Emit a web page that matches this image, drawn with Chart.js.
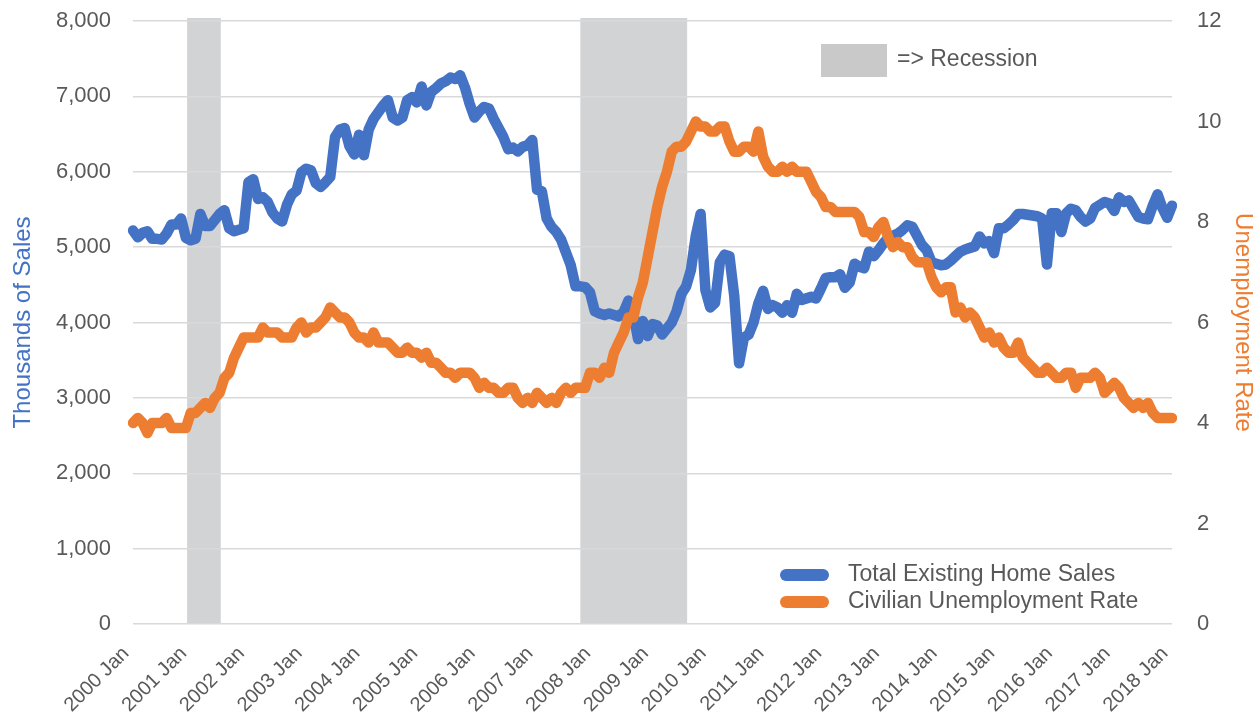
<!DOCTYPE html>
<html>
<head>
<meta charset="utf-8">
<script src="https://cdn.jsdelivr.net/npm/chart.js@4.4.1/dist/chart.umd.min.js"></script>
<style>
html,body{margin:0;padding:0;background:#ffffff;}
canvas{display:block;}
</style>
</head>
<body>
<canvas id="c" width="1260" height="721"></canvas>
<script>
// ---- categories (monthly, 2000 Jan .. 2018 Jan) ----
const firstYear = 2000;
const lastYear = 2018;
const monthNames = ["Jan","Feb","Mar","Apr","May","Jun","Jul","Aug","Sep","Oct","Nov","Dec"];
const categories = [];
for (let y = firstYear; y <= lastYear; y++) {
  for (let m = 0; m < 12; m++) {
    if (y === lastYear && m > 0) break;
    categories.push(y + " " + monthNames[m]);
  }
}

// ---- series: Total Existing Home Sales (thousands) ----
const homeSales = [
  5220,5130,5190,5210,5110,5110,5100,5180,5300,5300,5380,5120,
  5090,5110,5440,5280,5280,5360,5440,5490,5250,5210,5230,5250,
  5860,5900,5640,5660,5600,5460,5380,5340,5560,5700,5750,5990,
  6040,6020,5850,5800,5860,5930,6460,6560,6580,6340,6230,6490,
  6220,6560,6700,6790,6880,6950,6720,6680,6720,6950,6990,6920,
  7130,6880,7060,7110,7170,7200,7250,7230,7280,7120,6900,6720,
  6800,6860,6840,6700,6580,6460,6300,6320,6270,6330,6350,6420,
  5760,5740,5380,5270,5200,5100,4930,4760,4480,4480,4470,4400,
  4150,4120,4100,4120,4100,4080,4140,4290,4120,3780,4020,3820,
  3980,3960,3840,3920,4000,4150,4380,4480,4700,5150,5440,4430,
  4200,4260,4800,4900,4880,4350,3460,3800,3840,4000,4250,4420,
  4180,4230,4200,4130,4230,4130,4380,4300,4320,4340,4320,4450,
  4590,4600,4600,4640,4460,4530,4780,4740,4720,4940,4880,4960,
  5050,5120,5150,5180,5230,5290,5270,5150,5030,4960,4800,4780,
  4760,4770,4820,4880,4940,4970,4990,5010,5140,5050,5080,4920,
  5250,5250,5300,5360,5440,5440,5430,5420,5410,5380,4770,5450,
  5450,5200,5450,5510,5490,5400,5340,5380,5520,5560,5600,5580,
  5480,5660,5600,5620,5510,5400,5380,5370,5550,5700,5520,5390,
  5550
];

// ---- series: Civilian Unemployment Rate (%) ----
const unemploymentRate = [
  4.0,4.1,4.0,3.8,4.0,4.0,4.0,4.1,3.9,3.9,3.9,3.9,
  4.2,4.2,4.3,4.4,4.3,4.5,4.6,4.9,5.0,5.3,5.5,5.7,
  5.7,5.7,5.7,5.9,5.8,5.8,5.8,5.7,5.7,5.7,5.9,6.0,
  5.8,5.9,5.9,6.0,6.1,6.3,6.2,6.1,6.1,6.0,5.8,5.7,
  5.7,5.6,5.8,5.6,5.6,5.6,5.5,5.4,5.4,5.5,5.4,5.4,
  5.3,5.4,5.2,5.2,5.1,5.0,5.0,4.9,5.0,5.0,5.0,4.9,
  4.7,4.8,4.7,4.7,4.6,4.6,4.7,4.7,4.5,4.4,4.5,4.4,
  4.6,4.5,4.4,4.5,4.4,4.6,4.7,4.6,4.7,4.7,4.7,5.0,
  5.0,4.9,5.1,5.0,5.4,5.6,5.8,6.1,6.1,6.5,6.8,7.3,
  7.8,8.3,8.7,9.0,9.4,9.5,9.5,9.6,9.8,10.0,9.9,9.9,
  9.8,9.8,9.9,9.9,9.6,9.4,9.4,9.5,9.5,9.4,9.8,9.3,
  9.1,9.0,9.0,9.1,9.0,9.1,9.0,9.0,9.0,8.8,8.6,8.5,
  8.3,8.3,8.2,8.2,8.2,8.2,8.2,8.1,7.8,7.8,7.7,7.9,
  8.0,7.7,7.5,7.6,7.5,7.5,7.3,7.2,7.2,7.2,6.9,6.7,
  6.6,6.7,6.7,6.2,6.3,6.1,6.2,6.1,5.9,5.7,5.8,5.6,
  5.7,5.5,5.4,5.4,5.6,5.3,5.2,5.1,5.0,5.0,5.1,5.0,
  4.9,4.9,5.0,5.0,4.7,4.9,4.9,4.9,5.0,4.9,4.6,4.7,
  4.8,4.7,4.5,4.4,4.3,4.4,4.3,4.4,4.2,4.1,4.1,4.1,
  4.1
];

// ---- recession bands (in month-index units of the category axis) ----
const recessionStart = [11.25, 93.0];
const recessionEnd   = [18.25, 115.2];

// ---- axis ticks ----
const salesTicks = [0,1000,2000,3000,4000,5000,6000,7000,8000];
const rateTicks  = [0,2,4,6,8,10,12];

const FONT = "'Liberation Sans', Arial, Helvetica, sans-serif";
const GREY_TEXT = "#595959";
const BLUE = "#4472C4";
const ORANGE = "#ED7D31";

const recessionPlugin = {
  id: 'recessionBands',
  beforeDraw(chart) {
    const ctx = chart.ctx;
    const xs = chart.scales.x;
    const area = chart.chartArea;
    ctx.save();
    ctx.fillStyle = "#D2D3D5";
    for (let i = 0; i < recessionStart.length; i++) {
      const x0 = xs.getPixelForValue(recessionStart[i]);
      const x1 = xs.getPixelForValue(recessionEnd[i]);
      ctx.fillRect(x0, area.top - 3, x1 - x0, area.bottom - area.top + 3);
    }
    ctx.restore();
  }
};

const legendPlugin = {
  id: 'customLegend',
  afterDraw(chart) {
    const ctx = chart.ctx;
    ctx.save();
    // recession key
    ctx.fillStyle = "#C9C9C9";
    ctx.fillRect(821, 44, 66, 33);
    ctx.fillStyle = GREY_TEXT;
    ctx.font = "23px " + FONT;
    ctx.textBaseline = "middle";
    ctx.textAlign = "left";
    ctx.fillText("=> Recession", 897, 60);
    // series keys
    const items = [
      {label: chart.data.datasets[1].label, color: BLUE, y: 575},
      {label: chart.data.datasets[0].label, color: ORANGE, y: 602}
    ];
    items.forEach(it => {
      ctx.strokeStyle = it.color;
      ctx.lineWidth = 12;
      ctx.lineCap = "round";
      ctx.beginPath();
      ctx.moveTo(786, it.y);
      ctx.lineTo(823, it.y);
      ctx.stroke();
      ctx.fillStyle = GREY_TEXT;
      ctx.fillText(it.label, 848, it.y);
    });
    ctx.restore();
  }
};

const trimPadding = s => { s.paddingTop = 0; s.paddingBottom = 0; };

new Chart(document.getElementById('c'), {
  type: 'line',
  data: {
    labels: categories,
    datasets: [
      {
        label: 'Civilian Unemployment Rate',
        data: unemploymentRate,
        yAxisID: 'y2',
        borderColor: ORANGE,
        backgroundColor: ORANGE,
        borderWidth: 10.5,
        pointRadius: 0,
        tension: 0,
        borderJoinStyle: 'round',
        borderCapStyle: 'round',
        order: 0
      },
      {
        label: 'Total Existing Home Sales',
        data: homeSales,
        yAxisID: 'y',
        borderColor: BLUE,
        backgroundColor: BLUE,
        borderWidth: 10.5,
        pointRadius: 0,
        tension: 0,
        borderJoinStyle: 'round',
        borderCapStyle: 'round',
        order: 1
      }
    ]
  },
  options: {
    responsive: false,
    animation: false,
    layout: { padding: { top: 21, right: 0, bottom: 0, left: 0 } },
    plugins: { legend: { display: false }, tooltip: { enabled: false } },
    scales: {
      x: {
        type: 'category',
        offset: false,
        grid: { display: false },
        border: { display: false },
        ticks: {
          autoSkip: false,
          minRotation: 45,
          maxRotation: 45,
          color: GREY_TEXT,
          font: { family: FONT, size: 20 },
          padding: 10,
          labelOffset: -7,
          callback: function(v, i) { return i % 12 === 0 ? this.getLabelForValue(v) : null; }
        },
        afterFit: s => { s.height = 97; }
      },
      y: {
        position: 'left',
        min: salesTicks[0],
        max: salesTicks[salesTicks.length - 1],
        afterBuildTicks: s => { s.ticks = salesTicks.map(v => ({value: v})); },
        grid: { color: '#D9D9D9', lineWidth: 1.5, drawTicks: false },
        border: { display: false },
        ticks: {
          color: GREY_TEXT,
          font: { family: FONT, size: 22 },
          padding: 22,
          callback: v => v.toLocaleString('en-US')
        },
        title: {
          display: true,
          text: 'Thousands of Sales',
          color: BLUE,
          font: { family: FONT, size: 24 },
          padding: { top: 9, bottom: 0 }
        },
        afterFit: s => { s.width = 133; trimPadding(s); }
      },
      y2: {
        position: 'right',
        min: rateTicks[0],
        max: rateTicks[rateTicks.length - 1],
        afterBuildTicks: s => { s.ticks = rateTicks.map(v => ({value: v})); },
        grid: { display: false, drawTicks: false },
        border: { display: false },
        ticks: {
          color: GREY_TEXT,
          font: { family: FONT, size: 22 },
          padding: 25
        },
        title: {
          display: true,
          text: 'Unemployment Rate',
          color: ORANGE,
          font: { family: FONT, size: 24 },
          padding: { top: 3, bottom: 0 }
        },
        afterFit: s => { s.width = 88; trimPadding(s); }
      }
    }
  },
  plugins: [recessionPlugin, legendPlugin]
});
</script>
</body>
</html>
